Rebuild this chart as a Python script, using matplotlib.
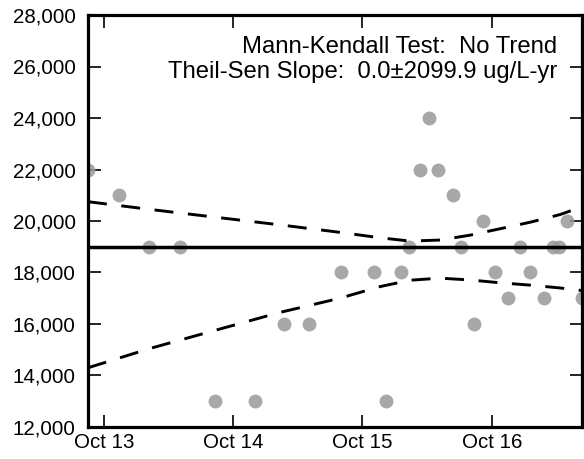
import matplotlib
matplotlib.use("Agg")
import matplotlib.pyplot as plt
import matplotlib.dates as mdates
import matplotlib.ticker as mticker
import pandas as pd

plt.rcParams['font.family'] = ['Liberation Sans', 'DejaVu Sans']

# sample results
sample_dates = [
    "2013-08-17", "2013-11-12", "2014-02-05", "2014-05-04", "2014-08-10",
    "2014-12-01", "2015-02-21", "2015-05-03", "2015-08-01", "2015-11-02",
    "2015-12-06", "2016-01-18", "2016-02-09", "2016-03-11", "2016-04-06",
    "2016-05-01", "2016-06-13", "2016-07-05", "2016-08-11", "2016-09-05",
    "2016-10-09", "2016-11-15", "2016-12-19", "2017-01-16", "2017-02-25",
    "2017-03-22", "2017-04-08", "2017-05-01", "2017-06-12",
]
conc = [
    22000, 21000, 19000, 19000, 13000,
    13000, 16000, 16000, 18000, 18000,
    13000, 18000, 19000, 22000, 24000,
    22000, 21000, 19000, 16000, 20000,
    18000, 17000, 19000, 18000, 17000,
    19000, 19000, 20000, 17000,
]

# Theil-Sen fit and confidence bands
median_conc = 19000
band_dates = [
    "2013-08-17", "2014-02-08", "2014-08-10", "2015-02-10", "2015-07-29",
    "2015-11-19", "2016-02-12", "2016-05-07", "2016-07-31", "2016-10-24",
    "2017-01-16", "2017-04-11", "2017-06-12",
]
upper_band = [20750, 20450, 20150, 19850, 19560, 19350, 19220, 19260,
              19450, 19700, 19950, 20250, 20550]
lower_band = [14300, 15050, 15750, 16450, 17000, 17450, 17700, 17780,
              17710, 17600, 17510, 17400, 17300]

annotation = "Mann-Kendall Test:  No Trend\nTheil-Sen Slope:  0.0\u00b12099.9 ug/L-yr"

x = pd.to_datetime(sample_dates)
xb = pd.to_datetime(band_dates)

fig = plt.figure(figsize=(5.84, 4.59), dpi=100)
ax = fig.add_axes([88 / 584, 32 / 459, 494 / 584, 412 / 459])

ax.scatter(x, conc, s=100, color='#999999', alpha=0.85, linewidths=0, zorder=2)
ax.axhline(median_conc, color='black', lw=2.5, zorder=3)
ax.plot(xb, upper_band, color='black', lw=2.1, dashes=(6.5, 5), zorder=3)
ax.plot(xb, lower_band, color='black', lw=2.1, dashes=(6.5, 5), zorder=3)

ax.set_xlim(x[0], x[-1])
ax.set_ylim(12000, 28000)
ax.xaxis.set_major_locator(mdates.YearLocator(base=1, month=10, day=1))
ax.xaxis.set_major_formatter(mdates.DateFormatter('%b %y'))
ax.yaxis.set_major_locator(mticker.MultipleLocator(2000))
ax.yaxis.set_major_formatter(mticker.StrMethodFormatter('{x:,.0f}'))

ax.tick_params(direction='in', length=9, width=1.2, top=True, right=True,
               labelsize=14.8)
ax.tick_params(axis='y', pad=9)
ax.tick_params(axis='x', pad=4)
for sp in ax.spines.values():
    sp.set_linewidth(2.3)

ax.text(0.95, 0.95, annotation, transform=ax.transAxes, ha='right', va='top',
        multialignment='right', fontsize=17.2, linespacing=1.2)

fig.savefig("out.png", dpi=100)
